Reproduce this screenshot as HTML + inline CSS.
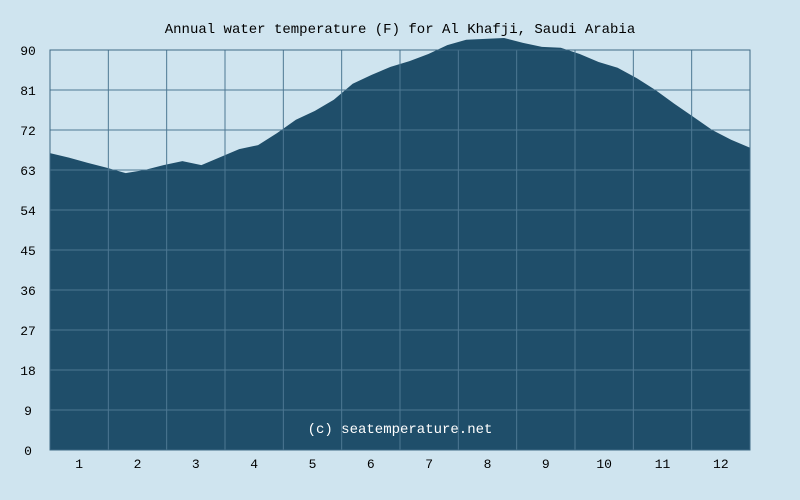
<!DOCTYPE html>
<html><head><meta charset="utf-8"><style>
body{margin:0;background:#cfe4ef;}
svg{display:block;font-family:"Liberation Mono",monospace;}
</style></head><body>
<svg width="800" height="500">
<rect width="800" height="500" fill="#cfe4ef"/>
<text x="400" y="33" text-anchor="middle" font-size="14" fill="#000">Annual water temperature (F) for Al Khafji, Saudi Arabia</text>
<g id="plot"></g>
</svg>
<script>
const months = ["1","2","3","4","5","6","7","8","9","10","11","12"];
const yTicks = [0,9,18,27,36,45,54,63,72,81,90];
const temps = [66.8,65.8,64.6,63.5,62.3,63,64.1,65,64.1,65.9,67.7,68.6,71.3,74.3,76.3,78.8,82.4,84.4,86.2,87.5,89.1,91.1,92.3,92.5,92.7,91.6,90.7,90.5,89.1,87.3,86,83.7,81,77.9,75,72,69.8,68];
const X0=50,X1=750,Y0=450,Y1=50;
const xs=i=>X0+(X1-X0)*i/(temps.length-1);
const ys=v=>Y0-(v/90)*(Y0-Y1);
const ns="http://www.w3.org/2000/svg";
const g=document.getElementById('plot');
function mk(t,a){const e=document.createElementNS(ns,t);for(const k in a)e.setAttribute(k,a[k]);g.appendChild(e);return e;}
const bg=mk('rect',{x:X0,y:Y1,width:X1-X0,height:Y0-Y1,fill:'#cfe4ef',stroke:'#3f6a85'});


let d=`M${X0},${Y0}`;
temps.forEach((v,i)=>{d+=` L${xs(i).toFixed(1)},${ys(v).toFixed(1)}`;});
d+=` L${X1},${Y0} Z`;
const area=mk('path',{d:d,fill:'#1f4e6a'});


yTicks.forEach(t=>{
  const y=ys(t);
  const l=mk('line',{x1:X0,x2:X1,y1:y,y2:y,stroke:'#4d7893','stroke-width':1});
  
  
  const tx=mk('text',{x:28,y:y+5,'text-anchor':'middle','font-size':13,fill:'#000'});
  tx.textContent=t;
  
  
});
const mw=(X1-X0)/12;
for(let i=0;i<=12;i++){
  const l=mk('line',{x1:X0+i*mw,x2:X0+i*mw,y1:Y1,y2:Y0,stroke:'#4d7893','stroke-width':1});
  
  
}
months.forEach((m,i)=>{
  const tx=mk('text',{x:X0+(i+0.5)*mw,y:468,'text-anchor':'middle','font-size':13,fill:'#000'});
  tx.textContent=m;
  
  
});
const frame=mk('rect',{x:X0,y:Y1,width:X1-X0,height:Y0-Y1,fill:'none',stroke:'#3f6a85'});


const c=mk('text',{x:400,y:433,'text-anchor':'middle','font-size':14,fill:'#ffffff'});
c.textContent='(c) seatemperature.net';


</script>
</body></html>
